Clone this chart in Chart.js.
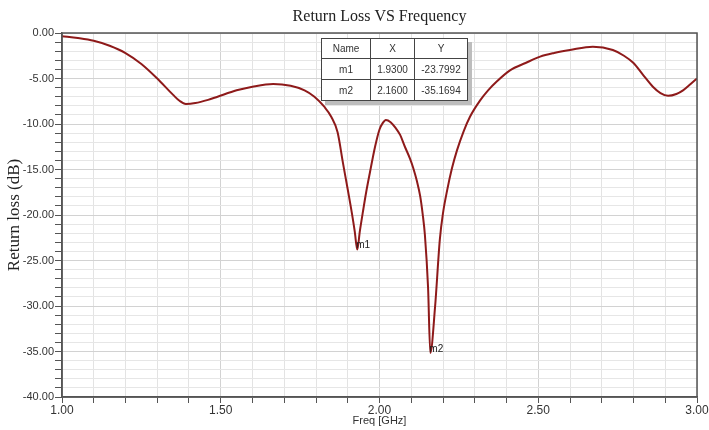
<!DOCTYPE html>
<html>
<head>
<meta charset="utf-8">
<script src="https://cdn.jsdelivr.net/npm/chart.js@4.4.1/dist/chart.umd.min.js"></script>
<style>
  html, body { margin: 0; padding: 0; background: #fff; }
  #wrap { position: relative; width: 709px; height: 430px; }
  #c { position: absolute; left: 0; top: 0; }
  #mk { position: absolute; left: 321px; top: 38px; border-collapse: collapse;
        font-family: "Liberation Sans", Arial, sans-serif; font-size: 10px; color: #333;
        background: #fff; box-shadow: 4px 4px 0 #bdbdbd; border: 1.5px solid #333; }
  #mk td { border: 1px solid #444; text-align: center; padding: 0; height: 19px; }
</style>
</head>
<body>
<div id="wrap">
  <canvas id="c" width="709" height="430"></canvas>
  <table id="mk"></table>
</div>
<script>
// ---- data ----
const freqGHz = [1.00,1.05,1.10,1.15,1.20,1.25,1.30,1.35,1.37,1.39,1.42,1.46,1.49,1.55,1.60,1.665,1.72,1.764,1.795,1.826,1.848,1.868,1.885,1.90,1.913,1.922,1.93,1.938,1.948,1.958,1.97,1.986,2.00,2.01,2.02,2.035,2.05,2.065,2.08,2.096,2.106,2.118,2.128,2.136,2.143,2.153,2.16,2.175,2.19,2.20,2.213,2.228,2.244,2.265,2.285,2.317,2.342,2.37,2.411,2.46,2.506,2.55,2.60,2.672,2.735,2.77,2.80,2.83,2.861,2.885,2.909,2.935,2.956,2.98,3.00];
const returnLossDB = [-0.35,-0.55,-0.85,-1.4,-2.2,-3.4,-5.0,-6.8,-7.45,-7.8,-7.7,-7.35,-7.0,-6.3,-5.9,-5.6,-5.8,-6.3,-7.0,-8.1,-9.2,-10.9,-14.3,-17.2,-19.8,-21.8,-23.8,-21.8,-19.6,-17.5,-15.3,-12.5,-10.6,-9.9,-9.56,-9.8,-10.4,-11.2,-12.5,-13.8,-14.8,-16.3,-17.9,-19.9,-22.2,-28.0,-35.17,-30.1,-22.7,-19.8,-17.3,-14.9,-12.9,-10.8,-9.2,-7.4,-6.3,-5.3,-4.1,-3.3,-2.6,-2.2,-1.87,-1.5,-1.87,-2.5,-3.3,-4.6,-5.9,-6.6,-6.9,-6.7,-6.3,-5.6,-5.0];
const markerNames = ["m1", "m2"];
const markerX = [1.9300, 2.1600];
const markerY = [-23.7992, -35.1694];
const xTickLabels = ["1.00", "1.50", "2.00", "2.50", "3.00"];
const yTickLabels = ["0.00", "-5.00", "-10.00", "-15.00", "-20.00", "-25.00", "-30.00", "-35.00", "-40.00"];

// marker table
const tbl = document.getElementById('mk');
let html = '<tr><td style="width:48px">Name</td><td style="width:43px">X</td><td style="width:52px">Y</td></tr>';
for (let i = 0; i < markerNames.length; i++) {
  html += '<tr><td style="height:20px">' + markerNames[i] + '</td><td>' + markerX[i].toFixed(4) + '</td><td>' + markerY[i].toFixed(4) + '</td></tr>';
}
tbl.innerHTML = html;

const points = freqGHz.map((f, i) => ({ x: f, y: returnLossDB[i] }));

const frame = {
  id: 'frame',
  afterDraw(chart) {
    const { ctx, chartArea: a } = chart;
    ctx.save();
    ctx.strokeStyle = '#555';
    ctx.lineWidth = 1.5;
    ctx.strokeRect(a.left, a.top, a.right - a.left, a.bottom - a.top);
    // marker labels
    ctx.fillStyle = '#222';
    ctx.font = '10px "Liberation Sans", Arial, sans-serif';
    ctx.textAlign = 'left';
    ctx.textBaseline = 'middle';
    const xs = chart.scales.x, ys = chart.scales.y;
    for (let i = 0; i < markerNames.length; i++) {
      ctx.fillText(markerNames[i], xs.getPixelForValue(markerX[i]) - 1, ys.getPixelForValue(markerY[i]) - 4);
    }
    ctx.restore();
  }
};

const tickFont = { family: '"Liberation Sans", Arial, sans-serif', size: 11 };

new Chart(document.getElementById('c'), {
  type: 'line',
  data: {
    datasets: [{
      data: points,
      borderColor: '#8e1a1a',
      borderWidth: 2,
      pointRadius: 0,
      cubicInterpolationMode: 'monotone',
      fill: false
    }]
  },
  options: {
    responsive: false,
    animation: false,
    layout: { padding: { left: 0, right: 12, top: 0, bottom: 0 } },
    plugins: {
      legend: { display: false },
      tooltip: { enabled: false },
      title: {
        display: true,
        text: 'Return Loss VS Frequency',
        fullSize: false,
        color: '#222',
        font: { family: '"Liberation Serif", "Times New Roman", serif', size: 16, weight: 'normal' },
        padding: { top: 7, bottom: 6.8 }
      }
    },
    scales: {
      x: {
        type: 'linear',
        min: 1, max: 3,
        afterFit(s) { s.height = 33; },
        border: { display: true, color: '#555', width: 1.5 },
        grid: {
          color: (c) => (Math.round(c.tick.value * 10) % 5 === 0 ? '#d2d2d2' : '#e3e3e3'),
          lineWidth: 1,
          tickLength: 6,
          tickColor: '#555',
          drawOnChartArea: true
        },
        ticks: {
          stepSize: 0.1,
          autoSkip: false,
          maxRotation: 0,
          padding: 0,
          color: '#333',
          font: { family: '"Liberation Sans", Arial, sans-serif', size: 12 },
          callback: (v) => {
            const k = Math.round(v * 10);
            if (k % 5 !== 0) return '';
            return xTickLabels[(k - 10) / 5];
          }
        },
        title: {
          display: true,
          text: 'Freq [GHz]',
          color: '#333',
          font: { family: '"Liberation Sans", Arial, sans-serif', size: 11 },
          padding: { top: 0, bottom: 2 }
        }
      },
      y: {
        min: -40, max: 0,
        afterFit(s) { s.width = 62; },
        border: { display: true, color: '#555', width: 1.5 },
        grid: {
          color: (c) => (Math.round(c.tick.value) % 5 === 0 ? '#d2d2d2' : '#e6e6e6'),
          lineWidth: 1,
          tickLength: 7,
          tickColor: '#555'
        },
        ticks: {
          stepSize: 1,
          autoSkip: false,
          padding: 1,
          color: '#333',
          font: tickFont,
          callback: (v) => {
            const k = Math.round(v);
            if (k % 5 !== 0) return '';
            return yTickLabels[-k / 5];
          }
        },
        title: {
          display: true,
          text: 'Return loss (dB)',
          color: '#222',
          font: { family: '"Liberation Serif", "Times New Roman", serif', size: 17 },
          padding: { top: 4, bottom: 0 }
        }
      }
    }
  },
  plugins: [frame]
});
</script>
</body>
</html>
